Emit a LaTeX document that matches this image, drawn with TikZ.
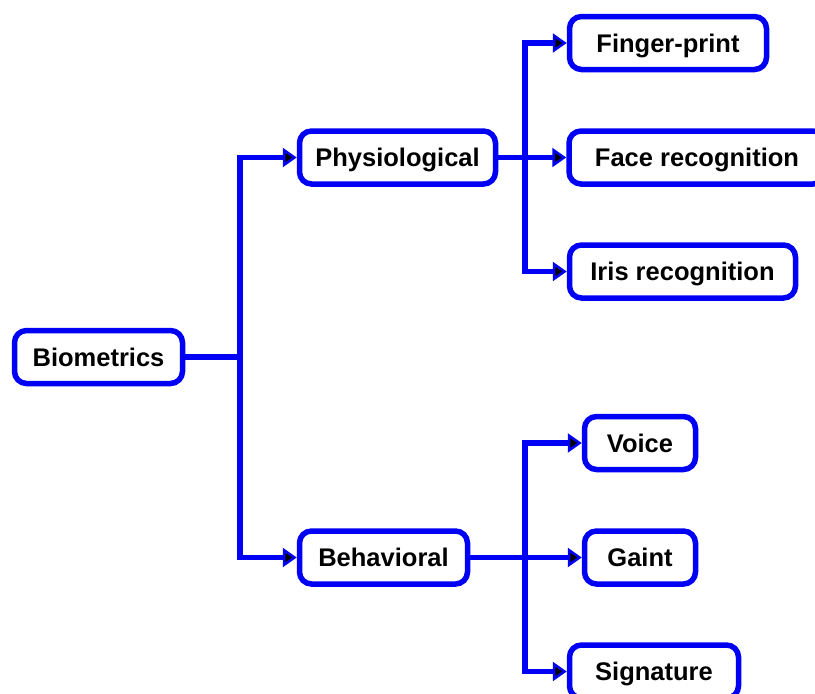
\documentclass[tikz,border=0pt]{standalone}
\usepackage{fontspec}
\setmainfont{Liberation Sans}
\usepackage{tikz}
\usetikzlibrary{arrows.meta,positioning,calc}
\definecolor{boxblue}{RGB}{0,0,245}
\tikzset{
    box/.style={draw=boxblue,line width=5.5pt,rounded corners=12pt,fill=white,
        minimum height=53pt,inner sep=0pt,text height=23pt,text depth=5pt,
        font=\fontsize{25.5}{30}\selectfont\bfseries},
    link/.style={draw=boxblue,line width=5.5pt},
    arr/.style={link,-{Triangle[length=14pt,width=19pt,fill=black,line width=2.5pt]}},
}

\begin{document}
\begin{tikzpicture}[x=1pt,y=-1pt]
        \useasboundingbox (0,0) rectangle (815,694);
        % boxes
        \node[box,minimum width=168pt] (bio) at (98.5,357) {Biometrics};
        \node[box,minimum width=196pt] (phy) at (397.5,157.5) {Physiological};
        \node[box,minimum width=168pt] (beh) at (383.5,557.5) {Behavioral};
        \node[box,minimum width=197pt] (fin) at (668,43) {Finger-print};
        \node[box,minimum width=256pt] (face) at (697,157.5) {Face recognition};
        \node[box,minimum width=226pt] (iris) at (682.5,271.5) {Iris recognition};
        \node[box,minimum width=111pt] (voice) at (640,443) {Voice};
        \node[box,minimum width=111pt] (gaint) at (640,557.5) {Gaint};
        \node[box,minimum width=169pt] (sig) at (654,671.5) {Signature};
        % junctions
        \coordinate (j1) at (240,357);
        \coordinate (j2) at (525,157.5);
        \coordinate (j3) at (525,557.5);
        % connectors
        \draw[link] (bio) -- (j1);
        \draw[arr] (j1) |- (phy);
        \draw[arr] (j1) |- (beh);
        \draw[arr] (phy) -- (face);
        \draw[arr] (j2) |- (fin);
        \draw[arr] (j2) |- (iris);
        \draw[arr] (beh) -- (gaint);
        \draw[arr] (j3) |- (voice);
        \draw[arr] (j3) |- (sig);
    \end{tikzpicture}
\end{document}
